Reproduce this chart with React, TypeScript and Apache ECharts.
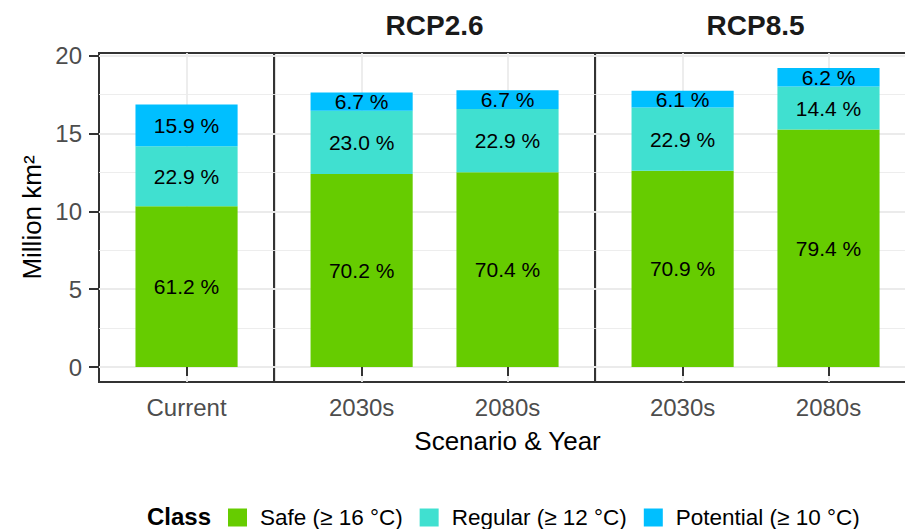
import React, { useEffect, useRef } from "react";
import * as echarts from "echarts";

// ---- data ----
const scenarios = ["", "RCP2.6", "RCP8.5"];
const categories = ["Current", "2030s", "2080s", "2030s", "2080s"];
const categoryScenario = [0, 1, 1, 2, 2];
const classNames = ["Safe (≥ 16 °C)", "Regular (≥ 12 °C)", "Potential (≥ 10 °C)"];
const classColors = ["#66CC00", "#40E0D0", "#00BFFF"];
// million km²
const safeArea = [10.32, 12.4, 12.51, 12.6, 15.25];
const regularArea = [3.86, 4.06, 4.07, 4.07, 2.77];
const potentialArea = [2.68, 1.18, 1.19, 1.08, 1.19];
// share labels (%)
const safePct = [61.2, 70.2, 70.4, 70.9, 79.4];
const regularPct = [22.9, 23.0, 22.9, 22.9, 14.4];
const potentialPct = [15.9, 6.7, 6.7, 6.1, 6.2];
const yTicks = [0, 5, 10, 15, 20];
const yLimits = [-0.96, 20.17];
const xTitle = "Scenario & Year";
const yTitle = "Million km²";
const legendTitle = "Class";

const areas = [safeArea, regularArea, potentialArea];
const pcts = [safePct, regularPct, potentialPct];

// ---- layout ----
const FONT = "Liberation Sans";
const PANEL_TOP = 53;
const PANEL_H = 329;
const PANEL_X0 = 99;
const UNIT = 145.9; // px per discrete step
const BAR_W = 0.7 * UNIT;

// positions along a panel: slots every 0.2 units, real categories at 0.6 + j
function slotOf(i: number, n: number): number {
  const j = (i - 3) / 5;
  return Number.isInteger(j) && j >= 0 && j < n ? j : -1;
}

function buildOption() {
  const grids: any[] = [];
  const xAxes: any[] = [];
  const yAxes: any[] = [];
  const series: any[] = [];
  const graphics: any[] = [];
  let left = PANEL_X0;
  scenarios.forEach((scen, g) => {
    const idx = categoryScenario.map((s, i) => (s === g ? i : -1)).filter((i) => i >= 0);
    const n = idx.length;
    const N = 5 * n + 2;
    const width = (n + 0.2) * UNIT;
    grids.push({
      left,
      top: PANEL_TOP,
      width,
      height: PANEL_H,
      show: true,
      containLabel: false,
      outerBoundsMode: "none",
      borderColor: "#333333",
      borderWidth: 2,
      backgroundColor: "transparent",
    });
    const axisData = Array.from({ length: N }, (_, i) => {
      const j = slotOf(i, n);
      return j >= 0 ? categories[idx[j]] : "_" + i;
    });
    xAxes.push({
      type: "category",
      gridIndex: g,
      data: axisData,
      boundaryGap: false,
      axisLine: { show: false },
      axisTick: {
        show: true,
        interval: (i: number) => slotOf(i, n) >= 0,
        length: 9,
        lineStyle: { color: "#333333", width: 2 },
      },
      axisLabel: {
        interval: (i: number) => slotOf(i, n) >= 0,
        margin: 13,
        fontSize: 24,
        color: "#4D4D4D",
        fontFamily: FONT,
      },
      splitLine: {
        show: true,
        interval: (i: number) => slotOf(i, n) >= 0,
        lineStyle: { color: "#EBEBEB", width: 1.8 },
      },
    });
    yAxes.push({
      type: "value",
      gridIndex: g,
      min: yLimits[0],
      max: yLimits[1],
      axisLine: { show: false },
      axisTick: {
        show: g === 0,
        customValues: yTicks,
        length: 10,
        lineStyle: { color: "#333333", width: 2 },
      },
      axisLabel: {
        show: g === 0,
        customValues: yTicks,
        margin: 17,
        fontSize: 24,
        color: "#4D4D4D",
        fontFamily: FONT,
      },
      splitLine: { show: true, lineStyle: { color: "#EBEBEB", width: 1.8 } },
      minorTick: { show: false, splitNumber: 2 },
      minorSplitLine: { show: true, lineStyle: { color: "#EBEBEB", width: 0.9 } },
    });
    classNames.forEach((name, k) => {
      series.push({
        type: "bar",
        name,
        xAxisIndex: g,
        yAxisIndex: g,
        stack: "panel" + g,
        barWidth: BAR_W,
        itemStyle: { color: classColors[k] },
        data: Array.from({ length: N }, (_, i) => {
          const j = slotOf(i, n);
          return j >= 0 ? areas[k][idx[j]] : "-";
        }),
        label: {
          show: true,
          position: "inside",
          fontSize: 21,
          color: "#000000",
          fontFamily: FONT,
          formatter: (p: any) => {
            const j = slotOf(p.dataIndex, n);
            return j >= 0 ? pcts[k][idx[j]].toFixed(1) + " %" : "";
          },
        },
      });
    });
    if (scen) {
      graphics.push({
        type: "text",
        x: left + width / 2,
        y: 25.8,
        style: {
          text: scen,
          textAlign: "center",
          textVerticalAlign: "middle",
          font: `bold 28px "${FONT}"`,
          fill: "#1A1A1A",
        },
      });
    }
    left += width;
  });
  const plotCenter = (PANEL_X0 + left) / 2;
  graphics.push(
    {
      type: "text",
      x: plotCenter,
      y: 441,
      style: {
        text: xTitle,
        textAlign: "center",
        textVerticalAlign: "middle",
        font: `26px "${FONT}"`,
        fill: "#000000",
      },
    },
    {
      type: "text",
      x: 32,
      y: PANEL_TOP + PANEL_H / 2,
      rotation: Math.PI / 2,
      style: {
        text: yTitle,
        textAlign: "center",
        textVerticalAlign: "middle",
        font: `26px "${FONT}"`,
        fill: "#000000",
      },
    },
    {
      type: "text",
      x: 147,
      y: 516.5,
      style: {
        text: legendTitle,
        textAlign: "left",
        textVerticalAlign: "middle",
        font: `bold 24px "${FONT}"`,
        fill: "#000000",
      },
    }
  );

  return {
    animation: false,
    backgroundColor: "#ffffff",
    grid: grids,
    xAxis: xAxes,
    yAxis: yAxes,
    series,
    legend: {
      data: classNames,
      left: 228,
      top: 506,
      padding: 0,
      orient: "horizontal",
      icon: "rect",
      itemWidth: 19,
      itemHeight: 18,
      itemGap: 17,
      selectedMode: false,
      textStyle: {
        fontSize: 22.5,
        color: "#000000",
        fontFamily: FONT,
        padding: [0, 0, 0, 8],
      },
    },
    graphic: graphics,
  };
}

export default function App() {
  const ref = useRef<HTMLDivElement>(null);
  useEffect(() => {
    if (!ref.current) return;
    const chart = echarts.init(ref.current, null, { renderer: "svg" });
    chart.setOption(buildOption() as any);
    return () => chart.dispose();
  }, []);
  return (
    <div
      style={{
        position: "fixed",
        left: 0,
        top: 0,
        width: 905,
        height: 529,
        overflow: "hidden",
        background: "#ffffff",
      }}
    >
      <div ref={ref} style={{ width: 920, height: 529 }} />
    </div>
  );
}
